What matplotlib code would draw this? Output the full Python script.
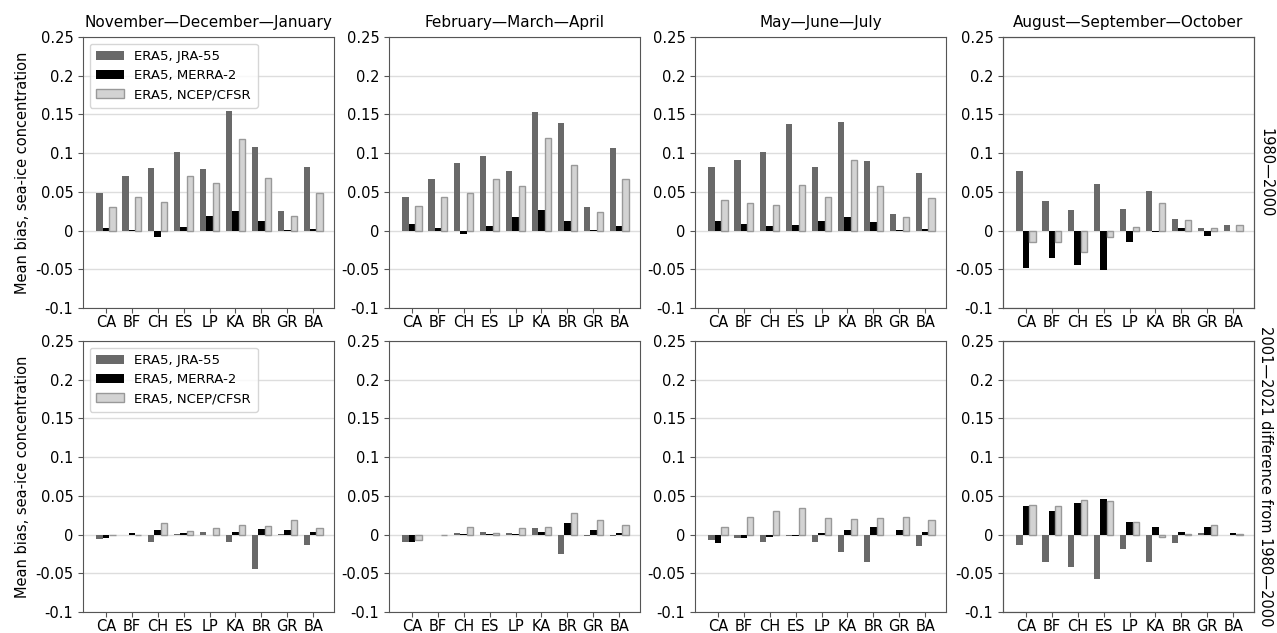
import matplotlib
matplotlib.use("Agg")
import matplotlib.pyplot as plt
import numpy as np

regions = ["CA", "BF", "CH", "ES", "LP", "KA", "BR", "GR", "BA"]
seasons = ["November\u2014December\u2014January", "February\u2014March\u2014April",
           "May\u2014June\u2014July", "August\u2014September\u2014October"]
series_names = ["ERA5, JRA-55", "ERA5, MERRA-2", "ERA5, NCEP/CFSR"]
row_labels = ["1980\u20142000", "2001\u20142021 difference from 1980\u20142000"]
yticks = [-0.1, -0.05, 0, 0.05, 0.1, 0.15, 0.2, 0.25]
ytick_labels = ["-0.1", "-0.05", "0", "0.05", "0.1", "0.15", "0.2", "0.25"]

# Row 1: 1980-2000 mean bias
jra_1 = [
    [0.049, 0.070, 0.081, 0.102, 0.080, 0.155, 0.108, 0.025, 0.082],
    [0.043, 0.067, 0.087, 0.096, 0.077, 0.153, 0.139, 0.030, 0.107],
    [0.082, 0.091, 0.102, 0.138, 0.082, 0.140, 0.090, 0.021, 0.074],
    [0.077, 0.038, 0.026, 0.060, 0.028, 0.051, 0.015, 0.003, 0.007],
]
merra_1 = [
    [0.003, 0.001, -0.008, 0.004, 0.019, 0.025, 0.013, 0.001, 0.002],
    [0.009, 0.003, -0.004, 0.006, 0.017, 0.026, 0.013, 0.0005, 0.006],
    [0.013, 0.008, 0.006, 0.007, 0.012, 0.017, 0.011, 0.0005, 0.002],
    [-0.048, -0.035, -0.044, -0.051, -0.015, -0.002, 0.003, -0.007, -0.001],
]
ncep_1 = [
    [0.031, 0.043, 0.037, 0.070, 0.061, 0.118, 0.068, 0.019, 0.049],
    [0.032, 0.043, 0.048, 0.067, 0.058, 0.120, 0.085, 0.024, 0.067],
    [0.039, 0.035, 0.033, 0.059, 0.044, 0.091, 0.057, 0.018, 0.042],
    [-0.015, -0.015, -0.028, -0.008, 0.005, 0.035, 0.014, 0.003, 0.007],
]
# Row 2: 2001-2021 difference from 1980-2000
jra_2 = [
    [-0.006, -0.001, -0.009, 0.0005, 0.003, -0.009, -0.044, 0.0005, -0.013],
    [-0.010, -0.001, 0.002, 0.003, 0.002, 0.008, -0.025, -0.002, -0.002],
    [-0.007, -0.005, -0.009, -0.002, -0.009, -0.023, -0.036, -0.001, -0.015],
    [-0.013, -0.036, -0.042, -0.058, -0.018, -0.036, -0.011, 0.002, -0.001],
]
merra_2 = [
    [-0.004, 0.002, 0.006, 0.002, -0.001, 0.003, 0.007, 0.006, 0.003],
    [-0.010, -0.001, 0.0005, 0.0005, 0.0005, 0.003, 0.015, 0.006, 0.002],
    [-0.011, -0.005, -0.003, -0.002, 0.002, 0.006, 0.010, 0.006, 0.003],
    [0.037, 0.030, 0.041, 0.046, 0.016, 0.010, 0.003, 0.010, 0.002],
]
ncep_2 = [
    [-0.001, -0.001, 0.015, 0.004, 0.009, 0.012, 0.011, 0.019, 0.009],
    [-0.007, -0.001, 0.010, 0.002, 0.008, 0.010, 0.028, 0.019, 0.013],
    [0.010, 0.023, 0.030, 0.034, 0.022, 0.020, 0.021, 0.023, 0.019],
    [0.038, 0.037, 0.045, 0.044, 0.016, -0.003, 0.001, 0.012, 0.001],
]

rows = [(jra_1, merra_1, ncep_1), (jra_2, merra_2, ncep_2)]

W, H = 1277, 633
fig = plt.figure(figsize=(W / 100, H / 100), dpi=100)
lefts = [83, 389, 695, 1003]
tops = [37, 341]
aw, ah = 251, 271

x = np.arange(len(regions))
bw = 0.25
for r, (jra, merra, ncep) in enumerate(rows):
    for c in range(4):
        ax = fig.add_axes([lefts[c] / W, 1 - (tops[r] + ah) / H, aw / W, ah / H])
        ax.set_axisbelow(True)
        ax.yaxis.grid(True, color="#dddddd", linewidth=1.0)
        ax.bar(x - bw, jra[c], bw, color="#696969", label=series_names[0])
        ax.bar(x, merra[c], bw, color="black", label=series_names[1])
        ax.bar(x + bw, ncep[c], bw, color="#d3d3d3", edgecolor="#999999",
               linewidth=1.0, label=series_names[2])
        ax.set_ylim(-0.1, 0.25)
        ax.set_xlim(-0.88, 8.8)
        ax.set_yticks(yticks)
        ax.set_yticklabels(ytick_labels)
        ax.set_xticks(x)
        ax.set_xticklabels(regions)
        ax.tick_params(labelsize=10.5, length=3.5, color="#555555")
        ax.tick_params(axis="x", pad=1.5)
        for s in ax.spines.values():
            s.set_color("#555555")
        if r == 0:
            ax.set_title(seasons[c], fontsize=11, pad=7)
        if c == 0:
            ax.set_ylabel("Mean bias, sea-ice concentration", fontsize=10.5)
            ax.legend(loc="upper left", fontsize=9.5, frameon=True,
                      handlelength=2.1, borderpad=0.5, labelspacing=0.45)
        if c == 3:
            ax2 = ax.twinx()
            ax2.set_yticks([])
            ax2.set_ylabel(row_labels[r], rotation=270, fontsize=10.5, labelpad=14)
            for s in ax2.spines.values():
                s.set_color("#555555")

fig.savefig("out.png", dpi=100)
